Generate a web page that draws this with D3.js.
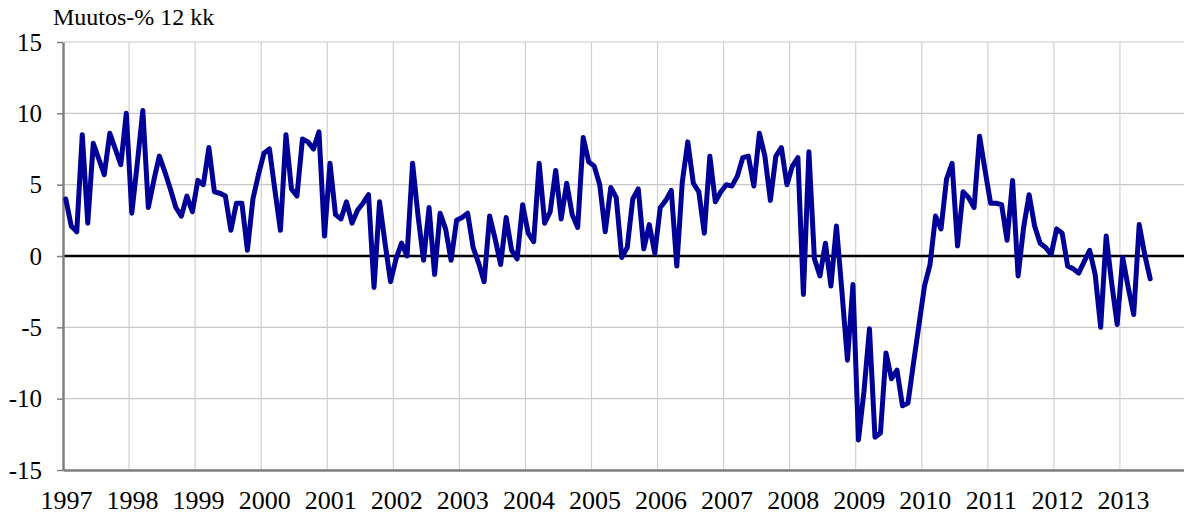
<!DOCTYPE html>
<html>
<head>
<meta charset="utf-8">
<script src="https://cdn.jsdelivr.net/npm/d3@7"></script>
<style>
  body { margin: 0; background: #fff; }
</style>
</head>
<body>
<main></main>
<script>
const width = 1184;
const height = 516;
const margin = {top: 42, right: -2, bottom: 46, left: 63};
const fontFamily = "'Liberation Serif', 'Times New Roman', serif";

const title = 'Muutos-% 12 kk';
const years = ['1997', '1998', '1999', '2000', '2001', '2002', '2003', '2004', '2005',
               '2006', '2007', '2008', '2009', '2010', '2011', '2012', '2013'];
const yTicks = [-15, -10, -5, 0, 5, 10, 15];

// monthly 12 month change %, Jan 1997 - Jun 2013
const changePct = [
   4.0,  2.1,  1.7,  8.5,  2.3,  7.9,  6.8,  5.7,  8.6,  7.5,  6.4, 10.0,
   3.0,  6.5, 10.2,  3.4,  5.3,  7.0,  5.9,  4.7,  3.4,  2.8,  4.2,  3.1,
   5.3,  5.0,  7.6,  4.5,  4.4,  4.2,  1.8,  3.7,  3.7,  0.4,  4.0,  5.7,
   7.2,  7.5,  4.6,  1.8,  8.5,  4.7,  4.2,  8.2,  8.0,  7.5,  8.7,  1.4,
   6.5,  2.9,  2.6,  3.8,  2.3,  3.2,  3.7,  4.3, -2.2,  3.8,  0.9, -1.8,
  -0.2,  0.9,  0.0,  6.5,  2.8, -0.3,  3.4, -1.3,  3.0,  1.9, -0.3,  2.5,
   2.7,  3.0,  0.6, -0.5, -1.8,  2.8,  1.2, -0.6,  2.7,  0.4, -0.2,  3.6,
   1.6,  1.0,  6.5,  2.3,  3.1,  6.0,  2.6,  5.1,  2.9,  2.0,  8.3,  6.6,
   6.3,  5.0,  1.7,  4.8,  4.1, -0.1,  0.6,  4.0,  4.7,  0.5,  2.2,  0.2,
   3.4,  3.9,  4.6, -0.7,  5.2,  8.0,  5.1,  4.5,  1.6,  7.0,  3.8,  4.5,
   5.0,  4.9,  5.6,  6.9,  7.0,  4.9,  8.6,  7.0,  3.9,  7.0,  7.6,  5.0,
   6.3,  6.9, -2.7,  7.3, -0.2, -1.4,  0.9, -2.1,  2.1, -2.5, -7.3, -2.0,
 -12.9, -9.5, -5.1,-12.7,-12.4, -6.8, -8.6, -8.0,-10.5,-10.3, -7.5, -4.8,
  -2.1, -0.6,  2.8,  1.9,  5.4,  6.5,  0.7,  4.5,  4.1,  3.4,  8.4,  6.0,
   3.7,  3.7,  3.6,  1.1,  5.3, -1.4,  2.0,  4.3,  2.1,  0.9,  0.6,  0.1,
   1.9,  1.6, -0.7, -0.9, -1.2, -0.4,  0.4, -1.3, -5.0,  1.4, -1.9, -4.8,
  -0.1, -2.2, -4.1,  2.2,  0.1, -1.6
];

const createSvg = () => {
    return d3.select('main')
             .append('svg')
             .attr('width', width)
             .attr('height', height)
             .style('display', 'block');
};

const createScales = () => {
    // month index scale, 12 slots per year
    const xScale = d3.scaleLinear()
                     .domain([0, years.length * 12])
                     .range([margin.left, width - margin.right]);
    const yScale = d3.scaleLinear()
                     .domain([d3.min(yTicks), d3.max(yTicks)])
                     .range([height - margin.bottom, margin.top]);
    return {xScale, yScale};
};

const createGrid = (svg, scales) => {
    svg.append('g')
       .selectAll('line')
       .data(yTicks)
       .enter()
       .append('line')
       .attr('x1', margin.left)
       .attr('x2', width)
       .attr('y1', (d) => scales.yScale(d))
       .attr('y2', (d) => scales.yScale(d))
       .attr('stroke', '#c8c8c8')
       .attr('stroke-width', 1.2);

    svg.append('g')
       .selectAll('line')
       .data(years.slice(1))
       .enter()
       .append('line')
       .attr('x1', (d, i) => scales.xScale((i + 1) * 12))
       .attr('x2', (d, i) => scales.xScale((i + 1) * 12))
       .attr('y1', margin.top)
       .attr('y2', height - margin.bottom)
       .attr('stroke', '#d0d0d0')
       .attr('stroke-width', 1.2);
};

const styleText = (sel, size) => {
    sel.style('font-family', fontFamily)
       .style('font-size', size + 'px')
       .attr('fill', '#000');
};

const createAxis = (svg, scales) => {
    const yAxis = svg.append('g')
                     .attr('transform', 'translate(' + margin.left + ', 0)')
                     .call(d3.axisLeft(scales.yScale)
                             .tickValues(yTicks)
                             .tickFormat((d) => String(d))
                             .tickSizeInner(6)
                             .tickSizeOuter(0)
                             .tickPadding(15));
    yAxis.attr('font-family', null).attr('font-size', null);
    yAxis.select('.domain').attr('stroke', '#808080').attr('stroke-width', 2.5);
    yAxis.selectAll('.tick line').attr('stroke', '#808080').attr('stroke-width', 1.5);
    styleText(yAxis.selectAll('text'), 25);

    const xAxis = svg.append('g')
                     .attr('transform', 'translate(0, ' + (height - margin.bottom) + ')')
                     .call(d3.axisBottom(scales.xScale)
                             .tickValues(years.map((d, i) => i * 12))
                             .tickFormat((d) => years[d / 12])
                             .tickSize(0)
                             .tickPadding(21));
    xAxis.attr('font-family', null).attr('font-size', null);
    xAxis.select('.domain').attr('stroke', '#808080').attr('stroke-width', 2.5);
    styleText(xAxis.selectAll('text').attr('dx', 3), 26);
};

const createZeroLine = (svg, scales) => {
    svg.append('line')
       .attr('x1', margin.left)
       .attr('x2', width)
       .attr('y1', scales.yScale(0))
       .attr('y2', scales.yScale(0))
       .attr('stroke', '#000')
       .attr('stroke-width', 2.5);
};

const createLine = (svg, scales) => {
    const line = d3.line()
                   .x((d, i) => scales.xScale(i + 0.5))
                   .y((d) => scales.yScale(d));
    svg.append('path')
       .datum(changePct)
       .attr('d', line)
       .attr('fill', 'none')
       .attr('stroke', '#000099')
       .attr('stroke-width', 5)
       .attr('stroke-linejoin', 'round')
       .attr('stroke-linecap', 'round');
};

const createTitle = (svg) => {
    styleText(svg.append('text')
                 .attr('x', 53)
                 .attr('y', 25)
                 .text(title), 24);
};

const driver = () => {
    const svg = createSvg();
    const scales = createScales();
    createGrid(svg, scales);
    createZeroLine(svg, scales);
    createAxis(svg, scales);
    createLine(svg, scales);
    createTitle(svg);
};

driver();
</script>
</body>
</html>
